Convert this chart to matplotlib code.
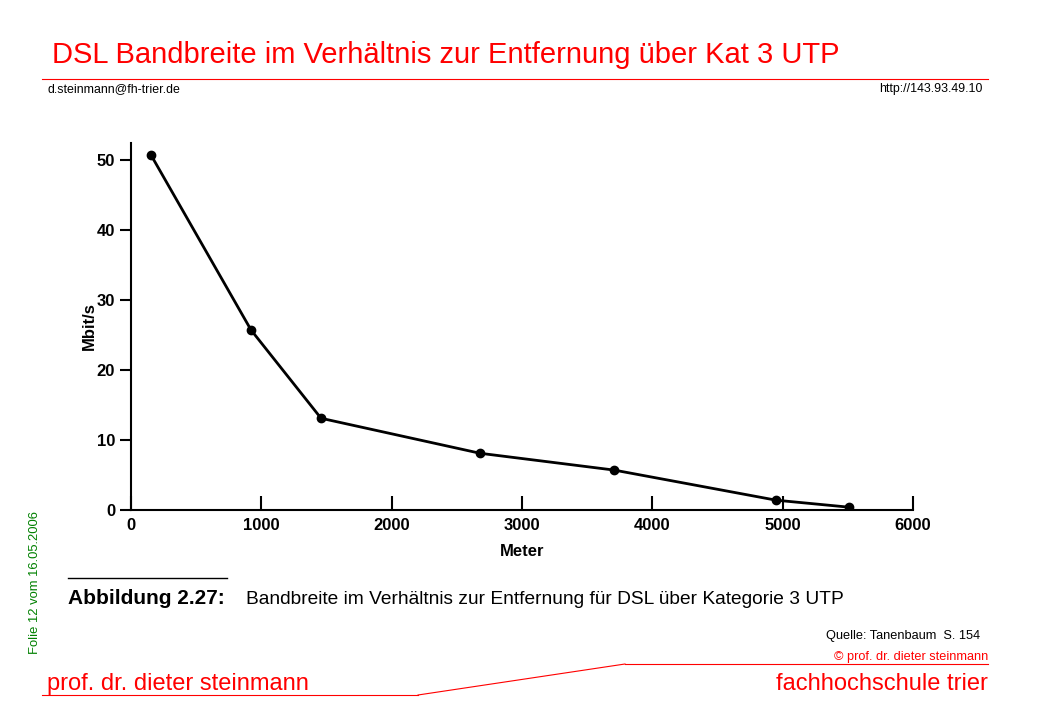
import matplotlib.pyplot as plt
from matplotlib.lines import Line2D

plt.rcParams["font.family"] = "Liberation Sans"

# Daten
meter = [153, 921, 1458, 2678, 3707, 4950, 5510]
mbits = [50.7, 25.7, 13.1, 8.1, 5.7, 1.4, 0.4]
x_ticks = [0, 1000, 2000, 3000, 4000, 5000, 6000]
y_ticks = [0, 10, 20, 30, 40, 50]

W, H = 1040, 720
fig = plt.figure(figsize=(W / 100, H / 100), dpi=100)

def fx(px):
    return px / W

def fy(py):
    return 1 - py / H

def hline(x0, y0, x1, y1, color="red", lw=0.8):
    fig.add_artist(Line2D([fx(x0), fx(x1)], [fy(y0), fy(y1)], color=color, lw=lw))

ax = fig.add_axes([fx(131), fy(510), fx(913) - fx(131), fy(143) - fy(510)])
ax.plot(meter, mbits, color="black", lw=2, marker="o", ms=6)
ax.set_xlim(0, 6000)
ax.set_ylim(0, 52.4)
ax.set_xticks(x_ticks)
ax.set_yticks(y_ticks)
ax.spines["top"].set_visible(False)
ax.spines["right"].set_visible(False)
ax.spines["left"].set_linewidth(1.5)
ax.spines["bottom"].set_linewidth(1.5)
ax.tick_params(axis="x", direction="in", length=10, width=1.5, labelsize=12, pad=6)
ax.tick_params(axis="y", direction="out", length=8, width=1.5, labelsize=12)
for lab in ax.get_xticklabels() + ax.get_yticklabels():
    lab.set_fontweight("bold")
ax.set_xlabel("Meter", fontsize=12, fontweight="bold", labelpad=8)
ax.set_ylabel("Mbit/s", fontsize=12, fontweight="bold", labelpad=0)

# Kopfbereich
fig.text(fx(52), fy(55), "DSL Bandbreite im Verhältnis zur Entfernung über Kat 3 UTP",
         color="red", fontsize=21, va="center")
hline(42, 79, 988, 79)
fig.text(fx(47), fy(89), "d.steinmann@fh-trier.de", fontsize=8.9, va="center")
fig.text(fx(983), fy(89), "http://143.93.49.10", fontsize=8.9, va="center", ha="right")

# Bildunterschrift
hline(68, 578, 227, 578, color="black", lw=1)
fig.text(fx(68), fy(599), "Abbildung 2.27:", fontsize=15, fontweight="bold", va="center")
fig.text(fx(246), fy(599), "Bandbreite im Verhältnis zur Entfernung für DSL über Kategorie 3 UTP",
         fontsize=13.8, va="center")

# Fußbereich
fig.text(fx(35), fy(582), "Folie 12 vom 16.05.2006", color="green", fontsize=9.4,
         rotation=90, va="center", ha="center")
fig.text(fx(826), fy(636), "Quelle: Tanenbaum  S. 154", fontsize=9.2, va="center")
fig.text(fx(988), fy(657), "© prof. dr. dieter steinmann", color="red", fontsize=9.2,
         va="center", ha="right")
hline(625, 664, 988, 664)
hline(418, 695, 625, 664)
hline(42, 695, 418, 695)
fig.text(fx(47), fy(684), "prof. dr. dieter steinmann", color="red", fontsize=17, va="center")
fig.text(fx(988), fy(684), "fachhochschule trier", color="red", fontsize=17, va="center", ha="right")

fig.savefig("out.png", dpi=100, facecolor="white")
